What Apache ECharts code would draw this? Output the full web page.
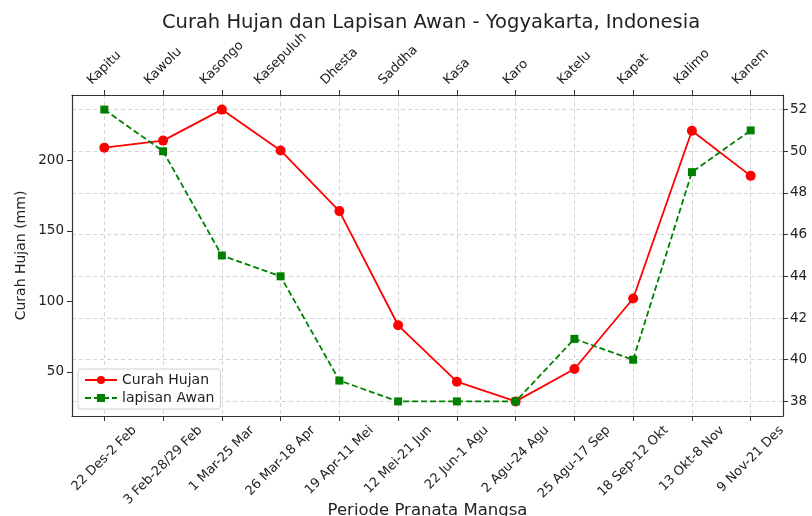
<!DOCTYPE html>
<html>
<head>
<meta charset="utf-8">
<script src="https://cdn.jsdelivr.net/npm/echarts@6/dist/echarts.min.js"></script>
<style>html,body{margin:0;padding:0;background:#fff}#c{width:812px;height:516px}</style>
</head>
<body>
<div id="c"></div>
<script>
const pranata = ['Kapitu','Kawolu','Kasongo','Kasepuluh','Dhesta','Saddha','Kasa','Karo','Katelu','Kapat','Kalimo','Kanem'];
const periode = ['22 Des-2 Feb','3 Feb-28/29 Feb','1 Mar-25 Mar','26 Mar-18 Apr','19 Apr-11 Mei','12 Mei-21 Jun','22 Jun-1 Agu','2 Agu-24 Agu','25 Agu-17 Sep','18 Sep-12 Okt','13 Okt-8 Nov','9 Nov-21 Des'];
const curahHujan = [209,214,236,207,164,83,43,29,52,102,221,189];
const lapisanAwan = [52,50,45,44,39,38,38,38,41,40,49,51];
const leftTicks = [50,100,150,200];
const rightTicks = [38,40,42,44,46,48,50,52];

const FONT = '"DejaVu Sans", sans-serif';
const LFS = 13, LLH = 15;
const X_MIN = -0.55, X_MAX = pranata.length - 1 + 0.55;
const idx = pranata.map((_, i) => i);
// guard positions at the axis ends (empty labels) so the real end labels are never auto-hidden
const labelPos = [X_MIN].concat(idx, [X_MAX]);

const ctx = document.createElement('canvas').getContext('2d');
ctx.font = LFS + 'px "DejaVu Sans"';
function richFor(labels, up) {
  const r = {};
  labels.forEach((t, i) => {
    const w = ctx.measureText(t).width;
    const a = (w + LLH) / 4;
    r['t' + i] = {
      fontSize: LFS, fontFamily: FONT, color: '#222', lineHeight: LLH,
      padding: up ? [0, 0, 2 * a, 2 * a] : [2 * a, 2 * a, 0, 0]
    };
  });
  return r;
}
function fmt(labels) {
  return v => {
    const i = Math.round(v);
    if (Math.abs(v - i) > 1e-6 || i < 0 || i >= labels.length) return ' ';
    return '{t' + i + '|' + labels[i] + '}';
  };
}

const gridLine = { show: true, lineStyle: { color: '#d4d4d4', type: [4, 3], width: 1 } };
const axisLineStyle = { show: true, onZero: false, lineStyle: { color: '#333', width: 1.2 } };
const tickStyle = { show: true, length: 5, lineStyle: { color: '#333' } };

const chart = echarts.init(document.getElementById('c'), null, { renderer: 'canvas' });
chart.setOption({
  animation: false,
  backgroundColor: '#fff',
  title: {
    text: 'Curah Hujan dan Lapisan Awan - Yogyakarta, Indonesia',
    left: 426, textAlign: 'center', top: 8,
    textStyle: { fontFamily: FONT, fontSize: 19.5, fontWeight: 'normal', color: '#222' }
  },
  grid: { left: 72, right: 29, top: 95, bottom: 100, containLabel: false, outerBoundsMode: 'none' },
  legend: {
    orient: 'vertical', left: 78, top: 369,
    itemWidth: 32, itemHeight: 10, itemGap: 4,
    padding: [4, 6, 4, 6],
    borderColor: '#d0d0d0', borderWidth: 1, borderRadius: 3,
    backgroundColor: 'rgba(255,255,255,0.85)',
    textStyle: { fontFamily: FONT, fontSize: 14, color: '#222' },
    data: ['Curah Hujan', 'lapisan Awan']
  },
  xAxis: [
    {
      type: 'value', position: 'bottom', min: X_MIN, max: X_MAX,
      name: 'Periode Pranata Mangsa', nameLocation: 'middle', nameGap: 86, nameMoveOverlap: false,
      nameTextStyle: { fontFamily: FONT, fontSize: 16.5, color: '#222', verticalAlign: 'top' },
      axisLine: axisLineStyle,
      axisTick: Object.assign({ customValues: idx }, tickStyle),
      splitLine: gridLine,
      axisLabel: {
        customValues: labelPos, rotate: 45, margin: 7, align: 'center', verticalAlign: 'middle',
        hideOverlap: false,
        formatter: fmt(periode),
        rich: richFor(periode, false)
      }
    },
    {
      type: 'value', position: 'top', min: X_MIN, max: X_MAX,
      axisLine: axisLineStyle,
      axisTick: Object.assign({ customValues: idx }, tickStyle),
      splitLine: { show: false },
      axisLabel: {
        customValues: labelPos, rotate: -45, margin: 7, align: 'center', verticalAlign: 'middle',
        hideOverlap: false,
        formatter: fmt(pranata),
        rich: richFor(pranata, true)
      }
    }
  ],
  yAxis: [
    {
      type: 'value', position: 'left', min: 18.65, max: 246.35,
      name: 'Curah Hujan (mm)', nameLocation: 'middle', nameGap: 44, nameMoveOverlap: false,
      nameTextStyle: { fontFamily: FONT, fontSize: 14, color: '#222' },
      axisLine: axisLineStyle,
      axisTick: Object.assign({ customValues: leftTicks }, tickStyle),
      splitLine: { show: false },
      axisLabel: { customValues: leftTicks, margin: 8, fontFamily: FONT, fontSize: 13.5, color: '#222' }
    },
    {
      type: 'value', position: 'right', min: 37.3, max: 52.7,
      axisLine: axisLineStyle,
      axisTick: Object.assign({ customValues: rightTicks }, tickStyle),
      splitLine: gridLine,
      axisLabel: { customValues: rightTicks, margin: 7, fontFamily: FONT, fontSize: 13.5, color: '#222' }
    }
  ],
  series: [
    {
      name: 'Curah Hujan', type: 'line', xAxisIndex: 0, yAxisIndex: 0,
      data: curahHujan.map((v, i) => [i, v]),
      symbol: 'circle', symbolSize: 10,
      lineStyle: { color: '#ff0000', width: 1.8 },
      itemStyle: { color: '#ff0000' },
      z: 3
    },
    {
      name: 'lapisan Awan', type: 'line', xAxisIndex: 0, yAxisIndex: 1,
      data: lapisanAwan.map((v, i) => [i, v]),
      symbol: 'rect', symbolSize: 8,
      lineStyle: { color: '#008000', width: 1.8, type: [6, 3] },
      itemStyle: { color: '#008000' },
      z: 4
    }
  ]
});
</script>
</body>
</html>
